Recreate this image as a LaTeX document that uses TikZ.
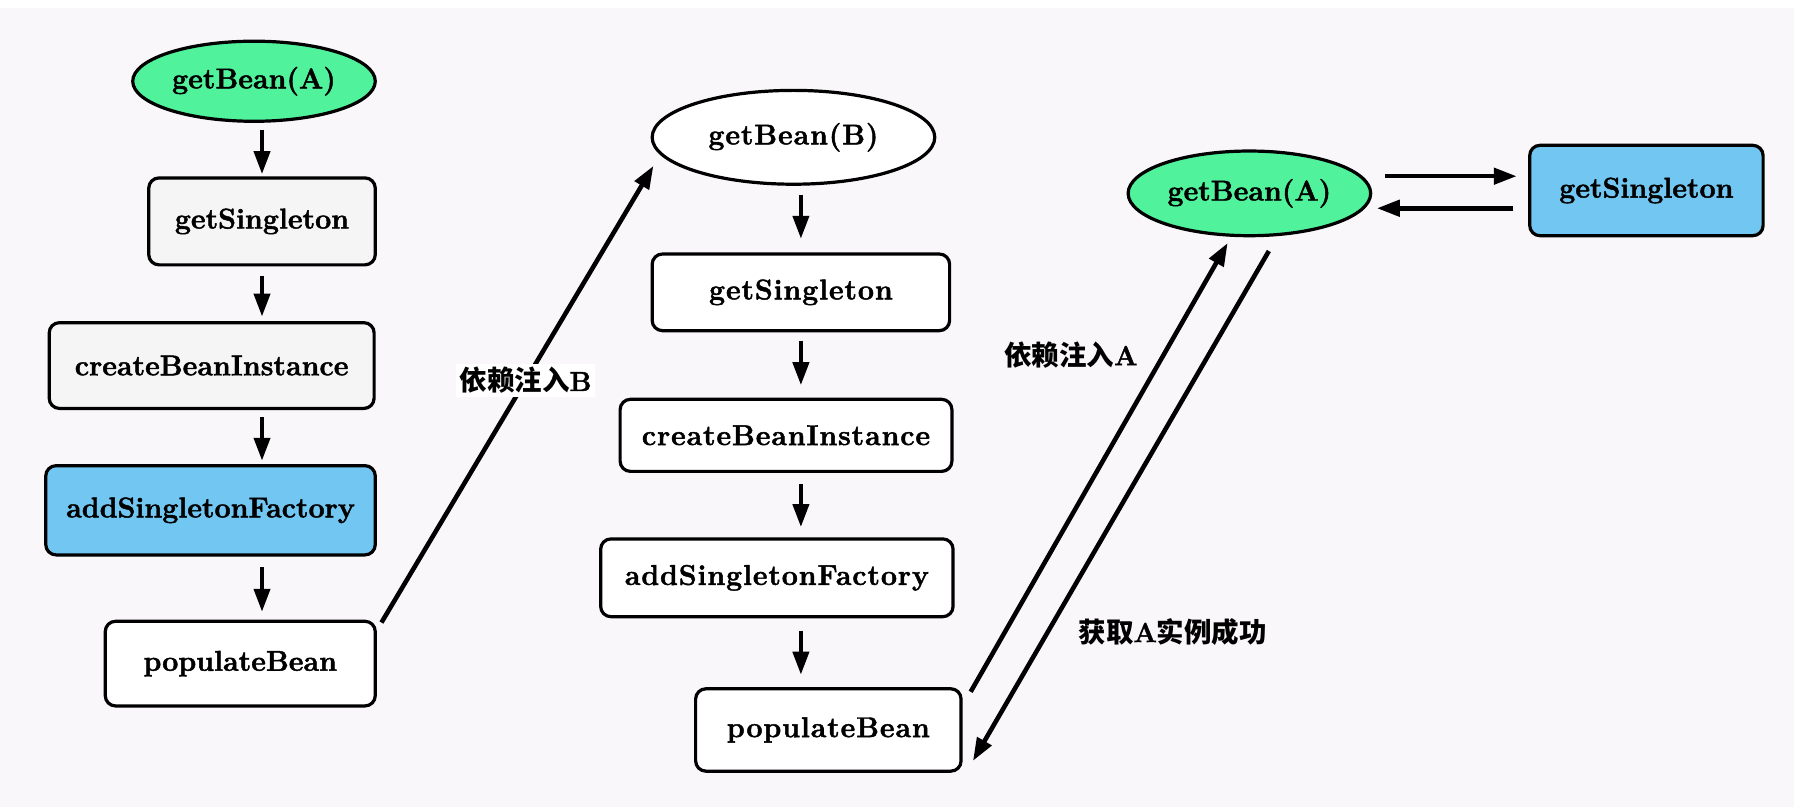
\documentclass[tikz,border=0pt]{standalone}
\usepackage{fontspec}
\setmainfont{Latin Modern Roman}[BoldFeatures={FakeBold=1.6}]
\newfontfamily\cjk{Noto Sans CJK SC Bold}
\usetikzlibrary{arrows.meta,calc,shapes.geometric}
\definecolor{bgc}{RGB}{250,247,250}
\definecolor{greenc}{RGB}{80,242,155}
\definecolor{bluec}{RGB}{114,198,242}
\definecolor{grayc}{RGB}{245,245,245}
\begin{document}
\begin{tikzpicture}[x=1pt,y=1pt,
  box/.style={draw,line width=2.8pt,rounded corners=9pt,inner sep=0pt,font=\fontsize{25}{30}\selectfont\bfseries},
  oval/.style={draw,ellipse,line width=2.8pt,inner sep=0pt,font=\fontsize{25}{30}\selectfont\bfseries},
  wide/.style={font=\fontsize{25}{30}\selectfont\bfseries\addfontfeature{LetterSpace=3}},
  arr/.style={line width=3.5pt,-{Triangle[length=20pt,width=14pt]}},
  lab/.style={font=\fontsize{24}{28}\selectfont\bfseries,inner sep=3pt}]
\useasboundingbox (0,0) rectangle (1568,-705);
\fill[white] (0,0) rectangle (1568,-705);
\fill[bgc] (0,-7) rectangle (1568,-705);
% left column
\node[oval,fill=greenc,minimum width=212pt,minimum height=70pt] (A1) at (222,-71) {getBean(A)};
\node[box,fill=grayc,minimum width=198pt,minimum height=76pt] (S1) at (229,-193.5) {getSingleton};
\node[box,fill=grayc,minimum width=284pt,minimum height=75pt] (C1) at (185,-319.5) {createBeanInstance};
\node[box,fill=bluec,minimum width=288pt,minimum height=78pt] (F1) at (184,-446) {addSingletonFactory};
\node[box,fill=white,minimum width=236pt,minimum height=74pt] (P1) at (210,-580) {populateBean};
% middle column
\node[oval,wide,fill=white,minimum width=247pt,minimum height=82pt] (E2) at (693.5,-120) {getBean(B)};
\node[box,wide,fill=white,minimum width=260pt,minimum height=67pt] (S2) at (700,-255.5) {getSingleton};
\node[box,wide,fill=white,minimum width=290pt,minimum height=63pt] (C2) at (687,-380.5) {createBeanInstance};
\node[box,wide,fill=white,minimum width=308pt,minimum height=68pt] (F2) at (679,-505) {addSingletonFactory};
\node[box,wide,fill=white,minimum width=232pt,minimum height=72pt] (P2) at (724,-638) {populateBean};
% right part
\node[oval,fill=greenc,minimum width=212pt,minimum height=74pt] (E3) at (1092,-169) {getBean(A)};
\node[box,fill=bluec,minimum width=204pt,minimum height=79pt] (G3) at (1439,-166.5) {getSingleton};
% left arrows
\draw[arr,shorten <=6pt,shorten >=2pt] (S1.north |- A1.south) -- (S1.north);
\draw[arr,shorten <=8pt,shorten >=4pt] (S1.south) -- (S1.south |- C1.north);
\draw[arr,shorten <=6pt,shorten >=3pt] (S1.south |- C1.south) -- (S1.south |- F1.north);
\draw[arr,shorten <=9pt,shorten >=7pt] (S1.south |- F1.south) -- (S1.south |- P1.north);
% middle arrows
\draw[arr,shorten <=8pt,shorten >=12pt] (S2.north |- E2.south) -- (S2.north);
\draw[arr,shorten <=8pt,shorten >=11pt] (S2.south) -- (S2.south |- C2.north);
\draw[arr,shorten <=10pt,shorten >=9pt] (S2.south |- C2.south) -- (S2.south |- F2.north);
\draw[arr,shorten <=11pt,shorten >=11pt] (S2.south |- F2.south) -- (S2.south |- P2.north);
% cross arrows
\draw[arr,line width=4pt] ([xshift=4pt,yshift=-2.5pt]P1.north east) -- node[lab,fill=white,pos=0.53] (L1) {{\cjk 依赖注入}B} ([xshift=2.5pt,yshift=-25pt]E2.west);
\draw[arr,line width=4pt] ([xshift=7pt,yshift=-4pt]P2.north east) -- ([xshift=-19pt,yshift=-5pt]E3.south);
\draw[arr,line width=4pt] ([xshift=17pt,yshift=-12pt]E3.south) -- ([xshift=9pt,yshift=-27pt]P2.east);
\draw[arr,line width=4pt] ([xshift=11pt,yshift=15pt]E3.east) -- ([xshift=-10pt,yshift=12.5pt]G3.west);
\draw[arr,line width=4pt] ([xshift=-13pt,yshift=-15.5pt]G3.west) -- ([xshift=4pt,yshift=-13pt]E3.east);
% labels
\node[lab] (L2) at (936,-310) {{\cjk 依赖注入}A};
\node[lab] (L3) at (1025,-552) {{\cjk 获取}A{\cjk 实例成功}};
\end{tikzpicture}
\end{document}
